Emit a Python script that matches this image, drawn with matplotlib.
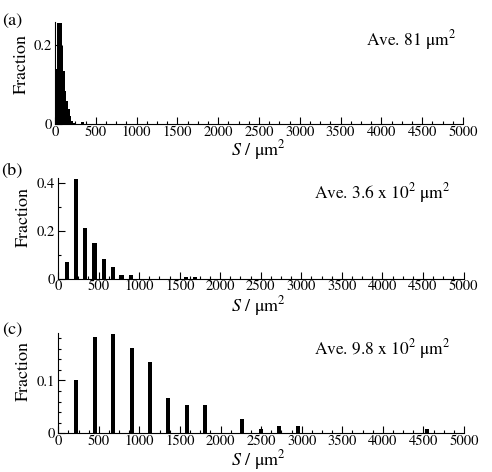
import numpy as np
import matplotlib
matplotlib.use('Agg')
import matplotlib.pyplot as plt
from matplotlib.ticker import MultipleLocator

plt.rcParams['font.family'] = 'STIXGeneral'
plt.rcParams['mathtext.fontset'] = 'stix'

# panel (a): histogram, 20 um^2 bins starting at 0
a_bin_width = 20
a_frac = [0.139, 0.255, 0.255, 0.255, 0.198, 0.135, 0.084, 0.059, 0.038,
          0.021, 0.008, 0.003, 0, 0, 0, 0, 0.004, 0.004]
a_left = np.arange(len(a_frac)) * a_bin_width

# panel (b)
b_pos = [111, 225, 336, 450, 563, 674, 783, 896, 1582, 1695]
b_frac = [0.069, 0.417, 0.21, 0.148, 0.083, 0.048, 0.015, 0.015, 0.007, 0.007]

# panel (c)
c_pos = [222, 448, 674, 904, 1128, 1354, 1582, 1810, 2269, 2495, 2723, 2953, 4541]
c_frac = [0.101, 0.181, 0.1875, 0.161, 0.134, 0.067, 0.054, 0.054, 0.0275,
          0.008, 0.014, 0.014, 0.0075]

labels = ['(a)', '(b)', '(c)']
ave_texts = ['Ave. 81 μm$^{2}$', 'Ave. 3.6 x 10$^{2}$ μm$^{2}$', 'Ave. 9.8 x 10$^{2}$ μm$^{2}$']

W, H = 492, 472
fig = plt.figure(figsize=(W / 100, H / 100), dpi=100)

def px_axes(left, right, top, bottom):
    return fig.add_axes([left / W, 1 - bottom / H, (right - left) / W, (bottom - top) / H])

ax_a = px_axes(55, 463, 22, 124)
ax_b = px_axes(58, 463.5, 178, 278.7)
ax_c = px_axes(58.3, 464, 332.7, 433.3)

ax_a.bar(a_left, a_frac, width=a_bin_width, align='edge', color='black', linewidth=0)
ax_b.bar(b_pos, b_frac, width=50, color='black', linewidth=0)
ax_c.bar(c_pos, c_frac, width=50, color='black', linewidth=0)

ylims = [0.258, 0.42, 0.19]
ymajor = [0.2, 0.2, 0.1]
yminor = [0.1, 0.1, 0.02]
for ax, top, maj, mnr in zip([ax_a, ax_b, ax_c], ylims, ymajor, yminor):
    ax.set_xlim(0, 5000)
    ax.set_ylim(0, top)
    ax.spines['top'].set_visible(False)
    ax.spines['right'].set_visible(False)
    for s in ['left', 'bottom']:
        ax.spines[s].set_linewidth(0.8)
    ax.xaxis.set_major_locator(MultipleLocator(500))
    ax.xaxis.set_minor_locator(MultipleLocator(125))
    ax.yaxis.set_major_locator(MultipleLocator(maj))
    ax.yaxis.set_minor_locator(MultipleLocator(mnr))
    ax.yaxis.set_major_formatter(lambda v, p: '0' if v == 0 else f'{v:g}')
    ax.tick_params(which='both', direction='in', width=0.8, labelsize=10.5)
    ax.tick_params(axis='x', pad=1)
    ax.tick_params(axis='y', pad=2.5)
    ax.tick_params(which='major', length=5)
    ax.tick_params(which='minor', length=2.5)

# texts positioned in pixel coordinates
def ftext(x, y, s, **kw):
    fig.text(x / W, 1 - y / H, s, **kw)

for lab, y in zip(labels, [21, 171, 330]):
    ftext(12, y, lab, ha='center', va='center', fontsize=13)
for y, x in zip([64, 217, 371], [22, 24, 24]):
    ftext(x, y, 'Fraction', rotation=90, ha='center', va='center', fontsize=13)
for y in [150, 306, 460]:
    ftext(258, y, '$S$ / μm$^{2}$', ha='center', va='center', fontsize=13)
for s, (x, y) in zip(ave_texts, [(366, 40), (314, 193), (314, 349)]):
    ftext(x, y, s, ha='left', va='center', fontsize=12.5)

plt.savefig('out.png', dpi=100)
